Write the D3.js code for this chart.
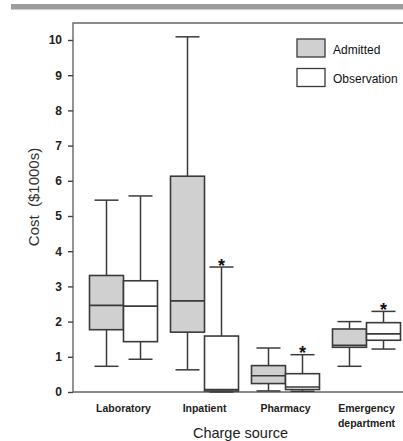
<!DOCTYPE html>
<html>
<head>
<meta charset="utf-8">
<script src="https://cdn.jsdelivr.net/npm/d3@7"></script>
<style>
  body { margin: 0; background: #fff; }
  svg { display: block; font-family: Arial, "Liberation Sans", sans-serif; }
</style>
</head>
<body>
<svg id="chart" width="403" height="441"></svg>
<script>
'use strict';

var categories = ["Laboratory", "Inpatient", "Pharmacy", "Emergency department"];
var groups = ["Admitted", "Observation"];
var yTicks = [0, 1, 2, 3, 4, 5, 6, 7, 8, 9, 10];

// [min, q1, median, q3, max] per category, in $1000s
var admitted = [
  [0.73, 1.77, 2.46, 3.31, 5.45],
  [0.63, 1.70, 2.59, 6.13, 10.09],
  [0.03, 0.24, 0.46, 0.75, 1.25],
  [0.73, 1.27, 1.33, 1.79, 2.00]
];
var observation = [
  [0.93, 1.43, 2.44, 3.16, 5.57],
  [0.00, 0.03, 0.07, 1.59, 3.55],
  [0.02, 0.07, 0.14, 0.52, 1.06],
  [1.22, 1.47, 1.65, 1.97, 2.29]
];
var significant = [false, true, true, true];

var fills = {Admitted: "#d0d0d0", Observation: "#ffffff"};
var ink = "#3a3a3a";

var svg = d3.select("#chart");

var frame = {left: 73, top: 23, right: 403, bottom: 392};

var y = d3.scaleLinear().domain([0, 10]).range([392, 40]);
var x = d3.scaleBand().domain(categories).range([83, 407]);
var xg = d3.scaleBand().domain(groups).range([-34, 34]);

// grey rule across the top
svg.append("rect")
  .attr("x", 11).attr("y", 4)
  .attr("width", 392).attr("height", 5.5)
  .attr("fill", "#9c9c9c");

// frame lines
svg.append("path")
  .attr("d", "M" + frame.right + "," + frame.top + "H" + frame.left + "V" + frame.bottom + "H" + frame.right)
  .attr("fill", "none")
  .attr("stroke", "#666")
  .attr("stroke-width", 1.4);

// y axis
var yAxis = svg.append("g")
  .attr("transform", "translate(" + frame.left + ",0)")
  .call(d3.axisLeft(y).tickValues(yTicks).tickSize(5).tickPadding(6).tickSizeOuter(0));
yAxis.select(".domain").remove();
yAxis.selectAll(".tick line").attr("stroke", "#444").attr("stroke-width", 1.4);
yAxis.selectAll(".tick text")
  .attr("fill", "#222")
  .style("font-size", "12px")
  .style("font-weight", "bold")
  .style("font-family", "Arial, 'Liberation Sans', sans-serif");

svg.append("text")
  .attr("transform", "translate(39,197) rotate(-90)")
  .attr("text-anchor", "middle")
  .attr("fill", "#333")
  .style("font-size", "15px")
  .text("Cost\u00a0\u00a0($1000s)");

// category labels
var labels = svg.append("g").selectAll("text")
  .data(categories)
  .enter().append("text")
    .attr("x", function(d) { return x(d) + x.bandwidth() / 2; })
    .attr("y", 412)
    .attr("text-anchor", "middle")
    .attr("fill", "#222")
    .style("font-size", "10.5px")
    .style("font-weight", "bold");
labels.each(function(d) {
  var words = d === "Emergency department" ? ["Emergency", "department"] : [d];
  var t = d3.select(this);
  words.forEach(function(w, i) {
    t.append("tspan")
      .attr("x", t.attr("x"))
      .attr("dy", i === 0 ? 0 : 15)
      .text(w);
  });
});

svg.append("text")
  .attr("x", 240.5)
  .attr("y", 438)
  .attr("text-anchor", "middle")
  .attr("fill", "#222")
  .style("font-size", "14.5px")
  .text("Charge source");

// boxes
var boxData = [];
categories.forEach(function(c, i) {
  boxData.push({cat: c, group: "Admitted", v: admitted[i], star: false});
  boxData.push({cat: c, group: "Observation", v: observation[i], star: significant[i]});
});

var half = 17, capHalf = 12;

var boxes = svg.append("g").selectAll("g")
  .data(boxData)
  .enter().append("g")
    .attr("transform", function(d) {
      var cx = x(d.cat) + x.bandwidth() / 2 + xg(d.group) + xg.bandwidth() / 2;
      return "translate(" + cx + ",0)";
    });

boxes.each(function(d) {
  var g = d3.select(this);
  var v = d.v;
  // whiskers
  g.append("line")
    .attr("x1", 0).attr("x2", 0)
    .attr("y1", y(v[0])).attr("y2", y(v[1]))
    .attr("stroke", ink).attr("stroke-width", 1.5);
  g.append("line")
    .attr("x1", 0).attr("x2", 0)
    .attr("y1", y(v[3])).attr("y2", y(v[4]))
    .attr("stroke", ink).attr("stroke-width", 1.5);
  [v[0], v[4]].forEach(function(val) {
    g.append("line")
      .attr("x1", -capHalf).attr("x2", capHalf)
      .attr("y1", y(val)).attr("y2", y(val))
      .attr("stroke", ink).attr("stroke-width", 1.5);
  });
  // box
  g.append("rect")
    .attr("x", -half)
    .attr("y", y(v[3]))
    .attr("width", half * 2)
    .attr("height", y(v[1]) - y(v[3]))
    .attr("fill", fills[d.group])
    .attr("stroke", ink)
    .attr("stroke-width", 1.6);
  g.append("line")
    .attr("x1", -half).attr("x2", half)
    .attr("y1", y(v[2])).attr("y2", y(v[2]))
    .attr("stroke", ink).attr("stroke-width", 1.6);
  if (d.star) {
    g.append("text")
      .attr("x", 0)
      .attr("y", y(v[4]) + 4.5)
      .attr("text-anchor", "middle")
      .attr("fill", "#111")
      .style("font-size", "18px")
      .style("font-weight", "bold")
      .text("*");
  }
});

// legend
var legend = svg.append("g").selectAll("g")
  .data(groups)
  .enter().append("g")
    .attr("transform", function(d, i) { return "translate(297," + (39 + i * 29.5) + ")"; });
legend.append("rect")
  .attr("width", 28).attr("height", 18)
  .attr("fill", function(d) { return fills[d]; })
  .attr("stroke", ink)
  .attr("stroke-width", 1.3);
legend.append("text")
  .attr("x", 36).attr("y", 14.5)
  .attr("fill", "#111")
  .style("font-size", "12px")
  .text(function(d) { return d; });
</script>
</body>
</html>
